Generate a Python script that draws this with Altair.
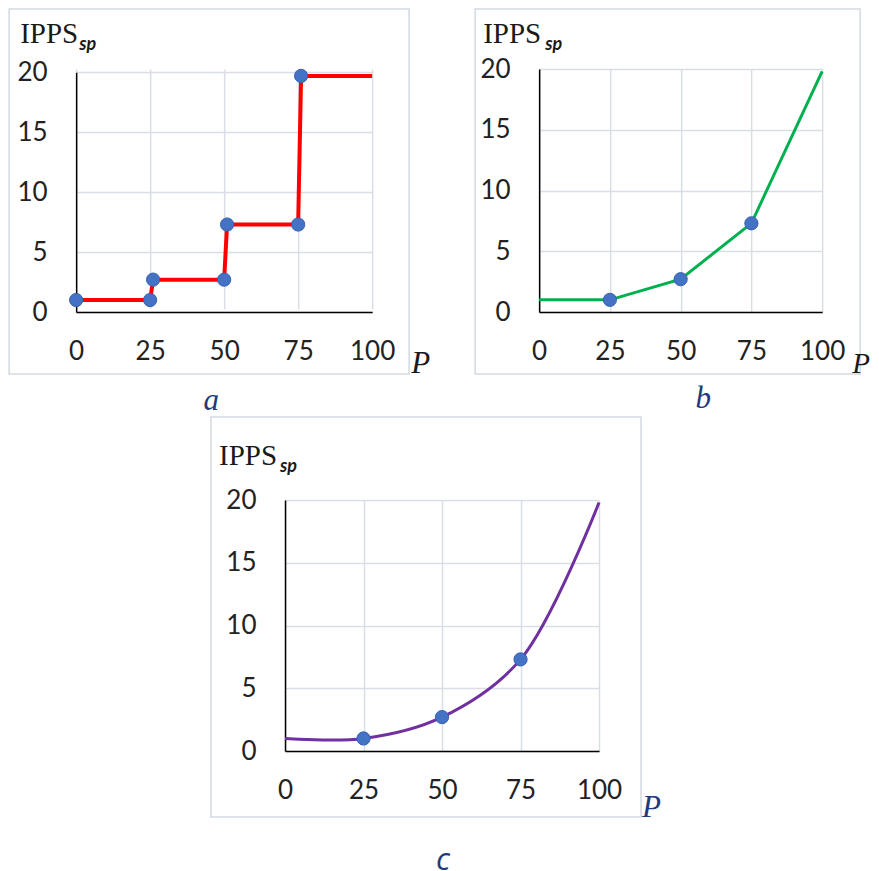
import altair as alt
import pandas as pd

# ---- data ----
P_a = [0, 25, 26, 50, 51, 75, 76, 100]
I_a = [1, 1, 2.7, 2.7, 7.3, 7.3, 19.7, 19.7]
pts_a = [True, True, True, True, True, True, True, False]

P_b = [0, 25, 50, 75, 100]
I_b = [1, 1, 2.7, 7.3, 19.8]
pts_b = [False, True, True, True, False]

P_c = [0, 25, 50, 75, 100]
I_c = [1, 1, 2.7, 7.3, 19.8]
pts_c = [False, True, True, True, False]

x_ticks = [0, 25, 50, 75, 100]
y_ticks = [0, 5, 10, 15, 20]

LABEL_FONT = "Lato"
SERIF = "'Liberation Serif', 'Times New Roman', serif"
NAVY = "#1F3A7A"
GRID = "#D9DEE6"
PT = "#4472C4"


def top_of(baseline, fs):
    # convert an alphabetic baseline position into a 'top' anchor position
    return baseline - 0.79 * fs


def panel(P, I, pts, color, w, h, frame, ipps, sp, pxy, letter, letter_font,
          yrange=None, interp="linear", lw=3.5, pcolor="#1a1a1a", pad_left=None,
          p_size=31):
    df = pd.DataFrame({"P": P, "I": I, "pt": pts})
    one = alt.Chart(pd.DataFrame({"k": [0]}))
    yscale = alt.Scale(domain=[0, 20], nice=False, zero=True)
    if yrange is not None:
        yscale = alt.Scale(domain=[0, 20], nice=False, zero=True, range=yrange)
    x = alt.X("P:Q", scale=alt.Scale(domain=[0, 100], nice=False),
              axis=alt.Axis(values=x_ticks, title=None, labelFont=LABEL_FONT,
                            labelFontSize=26, labelColor="#222222", labelPadding=26,
                            ticks=False, domainColor="#000000", domainWidth=1.5,
                            gridColor=GRID, gridWidth=1.5, labelFlush=False))
    y = alt.Y("I:Q", scale=yscale,
              axis=alt.Axis(values=y_ticks, title=None, labelFont=LABEL_FONT,
                            labelFontSize=26, labelColor="#222222", labelPadding=29,
                            ticks=False, domainColor="#000000", domainWidth=1.5,
                            gridColor=GRID, gridWidth=1.5, labelFlush=False))
    base = alt.Chart(df)
    fx1, fx2, fy1, fy2 = frame
    frame_l = one.mark_rect(fill="transparent", stroke="#D3D9E2", strokeWidth=1.5,
                            clip=False).encode(
        x=alt.value(fx1), x2=alt.value(fx2), y=alt.value(fy1), y2=alt.value(fy2))
    line = base.mark_line(color=color, strokeWidth=lw, interpolate=interp,
                          clip=False).encode(x=x, y=y)
    points = base.transform_filter(alt.datum.pt).mark_circle(
        size=175, color=PT, opacity=1, stroke="#3A62B0", strokeWidth=1
    ).encode(x="P:Q", y="I:Q")
    t1 = one.mark_text(text="IPPS", font=SERIF, fontSize=29, fontWeight="normal",
                       color="#1a1a1a", align="left", baseline="top").encode(
        x=alt.value(ipps[0]), y=alt.value(top_of(ipps[1], 29)))
    t2 = one.mark_text(text="sp", font=LABEL_FONT, fontSize=18, fontStyle="italic",
                       fontWeight="bold", color="#1a1a1a",
                       align="left", baseline="top").encode(
        x=alt.value(sp[0]), y=alt.value(top_of(sp[1], 18)))
    t3 = one.mark_text(text="P", font=SERIF, fontSize=p_size, fontStyle="italic",
                       fontWeight="normal", color=pcolor, align="left",
                       baseline="top").encode(
        x=alt.value(pxy[0]), y=alt.value(top_of(pxy[1], p_size)))
    t4 = one.mark_text(text=letter[0], font=letter_font, fontSize=31,
                       fontStyle="italic", fontWeight="normal", color=NAVY,
                       align="center", baseline="top").encode(
        x=alt.value(letter[1]), y=alt.value(top_of(letter[2], 31)))
    layers = [frame_l, line, points, t1, t2, t3, t4]
    if pad_left is not None:
        spacer = one.mark_rule(opacity=0, strokeWidth=0.1).encode(
            x=alt.value(pad_left), y=alt.value(0), y2=alt.value(10))
        layers.append(spacer)
    return alt.layer(*layers).properties(width=w, height=h)


a = panel(P_a, I_a, pts_a, "#FF0000", 296, 243,
          frame=(-67, 333, -60, 305), ipps=(-56, -26), sp=(3, -19),
          pxy=(335, 304), letter=("a", 135, 341), letter_font=SERIF,
          yrange=[243, 3.3], lw=4)
b = panel(P_b, I_b, pts_b, "#00B050", 283, 243,
          frame=(-64, 321, -60, 305), ipps=(-56, -26), sp=(6, -19),
          pxy=(313, 304), letter=("b", 164, 339), letter_font=SERIF, lw=3,
          p_size=29)
c = panel(P_c, I_c, pts_c, "#7030A0", 314, 251,
          frame=(-74, 356, -83, 317), ipps=(-66, -35), sp=(-5, -28),
          pxy=(357, 317), letter=("c", 158, 370), letter_font="Open Sans",
          interp="catmull-rom", lw=3, pcolor=NAVY, pad_left=-103)

top = alt.hconcat(a, b, spacing=44)
chart = alt.vconcat(top, c, spacing=0, center=True).properties(
    padding=0
).configure_view(stroke=None).configure_axis(grid=True)

chart.save("out.html", embed_options={"renderer": "svg", "actions": False})
